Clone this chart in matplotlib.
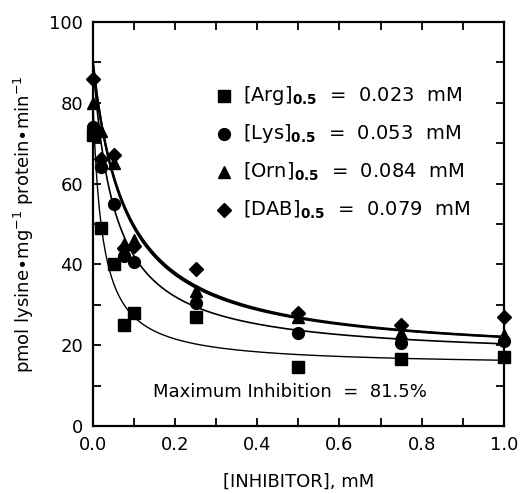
import numpy as np
import matplotlib
matplotlib.use("Agg")
import matplotlib.pyplot as plt
from matplotlib.ticker import MultipleLocator, FormatStrFormatter

# === Data ===
conc = [0.0, 0.02, 0.05, 0.075, 0.1, 0.25, 0.5, 0.75, 1.0]
arg = [72, 49, 40, 25, 28, 27, 14.7, 16.5, 17]
lys = [74, 64, 55, 42, 40.7, 30.5, 23, 20.5, 21]
orn = [80, 73, 65, 45, 46, 33.5, 27, 23, 22.5]
dab = [86, 66, 67, 44, 44.5, 38.8, 28, 25, 27]

names = ["Arg", "Lys", "Orn", "DAB"]
k_half = [0.023, 0.053, 0.084, 0.079]   # [I]0.5, mM
v_zero = [80, 90, 89, 90]               # fitted uninhibited rate
max_inhib = 0.815

series = [arg, lys, orn, dab]
markers = ["s", "o", "^", "D"]
msizes = [8, 8.5, 9, 7.5]
lwidths = [1.0, 1.2, 1.6, 1.6]

fig = plt.figure(figsize=(5.21, 4.94), dpi=100)
ax = fig.add_axes([0.1785, 0.1377, 0.7885, 0.8178])

# fitted hyperbolae
xs = np.linspace(0, 1.0, 400)
for k, v0, lw in zip(k_half, v_zero, lwidths):
    ax.plot(xs, v0 * (1 - max_inhib * xs / (k + xs)), color="black", lw=lw)

# data points
for vals, m, ms in zip(series, markers, msizes):
    ax.plot(conc, vals, m, color="black", ms=ms, ls="none", clip_on=False)

# legend-ish text block
leg_y = [81.7, 72.3, 62.9, 53.5]
for name, k, m, ms, y in zip(names, k_half, markers, msizes, leg_y):
    ax.plot([0.32], [y], m, color="black", ms=ms)
    ax.text(0.365, y, "[%s]$_{\\mathbf{0.5}}$  =  %.3f  mM" % (name, k),
            fontsize=14, va="center", ha="left")

ax.text(0.48, 8.4, "Maximum Inhibition  =  81.5%", fontsize=13, ha="center", va="center")

# Axes
ax.set_xlim(0, 1.0)
ax.set_ylim(0, 100)
ax.xaxis.set_major_locator(MultipleLocator(0.2))
ax.xaxis.set_minor_locator(MultipleLocator(0.1))
ax.xaxis.set_major_formatter(FormatStrFormatter("%.1f"))
ax.yaxis.set_major_locator(MultipleLocator(20))
ax.yaxis.set_minor_locator(MultipleLocator(10))
ax.tick_params(which="both", direction="in", top=True, right=True,
               length=6, width=1.3, labelsize=13, pad=7)
for spine in ax.spines.values():
    spine.set_linewidth(1.6)

ax.set_xlabel("[INHIBITOR], mM", fontsize=13, labelpad=14)
ax.set_ylabel("pmol lysine$\\bullet$mg$^{-1}$ protein$\\bullet$min$^{-1}$",
              fontsize=13, labelpad=10)

fig.savefig("out.png", dpi=100)
